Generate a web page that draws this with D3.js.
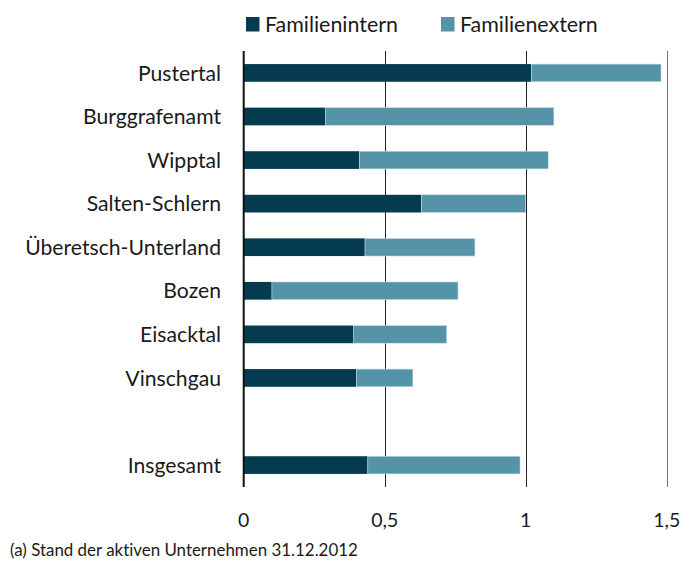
<!DOCTYPE html>
<html>
<head>
<meta charset="utf-8">
<script src="https://cdn.jsdelivr.net/npm/d3@7"></script>
<style>
  html, body { margin: 0; padding: 0; background: #fff; }
  svg text { font-family: Lato, "Open Sans", sans-serif; fill: #1a1a1a; font-variant-ligatures: none; font-feature-settings: "liga" 0; }
</style>
</head>
<body>
<svg id="chart" width="700" height="570"></svg>
<script>
// ---- data ----
const categories = ["Pustertal", "Burggrafenamt", "Wipptal", "Salten-Schlern",
  "Überetsch-Unterland", "Bozen", "Eisacktal", "Vinschgau", "", "Insgesamt"];
const familienintern = [1.02, 0.29, 0.41, 0.63, 0.43, 0.10, 0.39, 0.40, null, 0.44];
const familienextern = [0.46, 0.81, 0.67, 0.37, 0.39, 0.66, 0.33, 0.20, null, 0.54];
const seriesNames = ["Familienintern", "Familienextern"];
const seriesColors = ["#043b4f", "#5593a8"];
const xTicks = [0, 0.5, 1, 1.5];
const xTickLabels = ["0", "0,5", "1", "1,5"];
const footnote = "(a) Stand der aktiven Unternehmen 31.12.2012";

const svg = d3.select("#chart");
const keys = categories.map((c, i) => c === "" ? "__gap__" : c);

const x = d3.scaleLinear().domain([0, 1.5]).range([243.7, 666.7]);
const y = d3.scaleBand().domain(keys).range([51, 487]).paddingInner(0.594).paddingOuter(0.3);

// fit helper: size text so its width matches target
function fit(sel, target) {
  sel.style("font-size", "100px");
  const w = sel.node().getComputedTextLength();
  sel.style("font-size", (100 * target / w) + "px");
  return 100 * target / w;
}

// gridlines
const grid = svg.append("g");
grid.selectAll("line").data(xTicks.slice(1)).join("line")
  .attr("x1", d => Math.round(x(d)) + 0.5).attr("x2", d => Math.round(x(d)) + 0.5)
  .attr("y1", 51).attr("y2", 487)
  .attr("stroke", (d, i) => i === 2 ? "#777" : "#222").attr("stroke-width", 1);

// stacked bars
const rows = categories.map((c, i) => ({ key: keys[i], a: familienintern[i], b: familienextern[i] }))
  .filter(r => r.a !== null);
const bars = svg.append("g");
rows.forEach(r => {
  bars.append("rect")
    .attr("x", x(0)).attr("y", y(r.key))
    .attr("width", x(r.a) - x(0)).attr("height", y.bandwidth())
    .attr("fill", seriesColors[0]);
  bars.append("rect")
    .attr("x", x(r.a)).attr("y", y(r.key))
    .attr("width", x(r.a + r.b) - x(r.a)).attr("height", y.bandwidth())
    .attr("fill", seriesColors[1])
    .attr("stroke", "#cfe2e8").attr("stroke-width", 0.6);
});

// y axis line
svg.append("line").attr("x1", x(0)).attr("x2", x(0)).attr("y1", 51).attr("y2", 487)
  .attr("stroke", "#111").attr("stroke-width", 2);

// category labels
const labG = svg.append("g");
const labs = labG.selectAll("text").data(categories.map((c, i) => ({ c, k: keys[i] })).filter(d => d.c !== ""))
  .join("text")
  .attr("x", 221).attr("y", d => y(d.k) + y.bandwidth() / 2)
  .attr("dy", "0.36em").attr("text-anchor", "end")
  .text(d => d.c);
const refLab = labs.filter(d => d.c === "Überetsch-Unterland");
const catSize = fit(refLab, 196);
labs.style("font-size", catSize + "px");

// x tick labels
const tickG = svg.append("g");
const tl = tickG.selectAll("text").data(xTicks).join("text")
  .attr("x", d => x(d)).attr("y", 527).attr("text-anchor", "middle")
  .text((d, i) => xTickLabels[i]);
const tSize = fit(tl.filter((d, i) => i === 3), 27);
tl.style("font-size", tSize + "px");

// legend
const legX = [246, 441];
const leg = svg.append("g");
seriesNames.forEach((s, i) => {
  leg.append("rect").attr("x", legX[i]).attr("y", 17).attr("width", 13.5).attr("height", 14.5)
    .attr("fill", seriesColors[i]);
});
const lt = leg.selectAll("text").data(seriesNames).join("text")
  .attr("x", (d, i) => legX[i] + 19).attr("y", 31.5).text(d => d);
const lSize = fit(lt.filter((d, i) => i === 0), 133);
lt.style("font-size", lSize + "px");

// footnote
const fn = svg.append("text").attr("x", 10).attr("y", 556).text(footnote);
fit(fn, 348);
</script>
</body>
</html>
